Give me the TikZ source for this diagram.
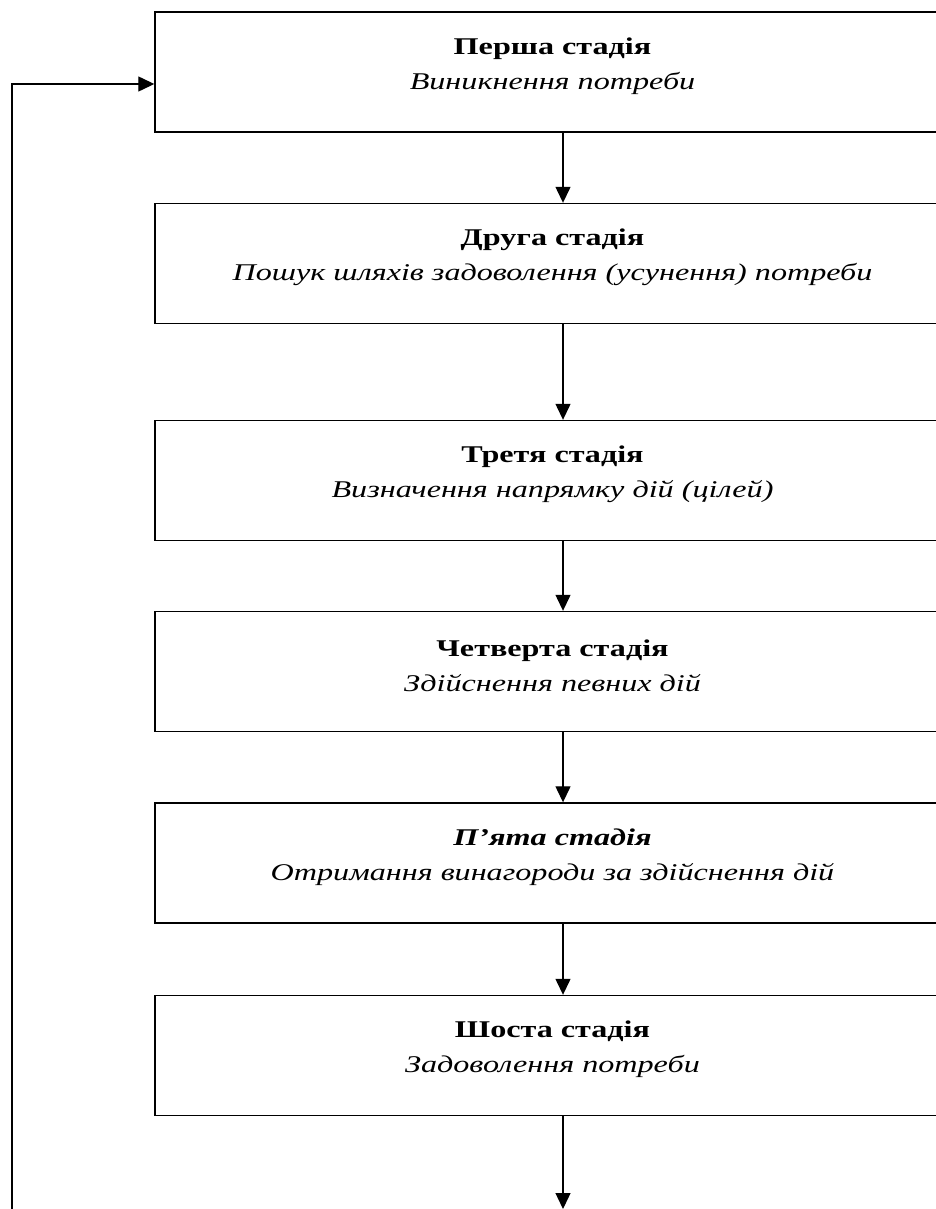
\documentclass[tikz,border=0pt]{standalone}
\usepackage{fontspec}
\setmainfont{Liberation Serif}[FakeStretch=1.34]
\usetikzlibrary{arrows.meta}
\begin{document}
\begin{tikzpicture}[x=1pt,y=-1pt,
  stagebox/.style={draw,line width=1.4pt,minimum width=795pt,minimum height=120pt,inner sep=0pt},
  stagetext/.style={inner sep=0pt,align=center,font=\fontsize{24}{35}\selectfont},
  flow/.style={line width=1.3pt,-{Triangle[length=16pt,width=15pt]}}]
\useasboundingbox (0,0) rectangle (936,1209);
\node[stagebox] (b1) at (552.5,72) {};
\node[stagebox] (b2) at (552.5,263.5) {};
\node[stagebox] (b3) at (552.5,480.5) {};
\node[stagebox] (b4) at (552.5,671.5) {};
\node[stagebox] (b5) at (552.5,863) {};
\node[stagebox] (b6) at (552.5,1055.5) {};
\node[stagetext] (t1) at ([yshift=6pt]b1.center) {\textbf{Перша стадія}\\\textit{Виникнення потреби}};
\node[stagetext] (t2) at ([yshift=6pt]b2.center) {\textbf{Друга стадія}\\\textit{Пошук шляхів задоволення (усунення) потреби}};
\node[stagetext] (t3) at ([yshift=6pt]b3.center) {\textbf{Третя стадія}\\\textit{Визначення напрямку дій (цілей)}};
\node[stagetext] (t4) at ([yshift=6pt]b4.center) {\textbf{Четверта стадія}\\\textit{Здійснення певних дій}};
\node[stagetext] (t5) at ([yshift=6pt]b5.center) {\textbf{\textit{П’ята стадія}}\\\textit{Отримання винагороди за здійснення дій}};
\node[stagetext] (t6) at ([yshift=6pt]b6.center) {\textbf{Шоста стадія}\\\textit{Задоволення потреби}};
\coordinate (loopbot) at (12,1215);
\coordinate (looptop) at (12,84);
\coordinate (endpt) at (563,1209);
\draw[flow] ([xshift=10.5pt]b1.south) -- ([xshift=10.5pt]b2.north);
\draw[flow] ([xshift=10.5pt]b2.south) -- ([xshift=10.5pt]b3.north);
\draw[flow] ([xshift=10.5pt]b3.south) -- ([xshift=10.5pt]b4.north);
\draw[flow] ([xshift=10.5pt]b4.south) -- ([xshift=10.5pt]b5.north);
\draw[flow] ([xshift=10.5pt]b5.south) -- ([xshift=10.5pt]b6.north);
\draw[flow] ([xshift=10.5pt]b6.south) -- (endpt);
\draw[flow] (loopbot) -- (looptop) -- (b1.west |- looptop);
\end{tikzpicture}
\end{document}
